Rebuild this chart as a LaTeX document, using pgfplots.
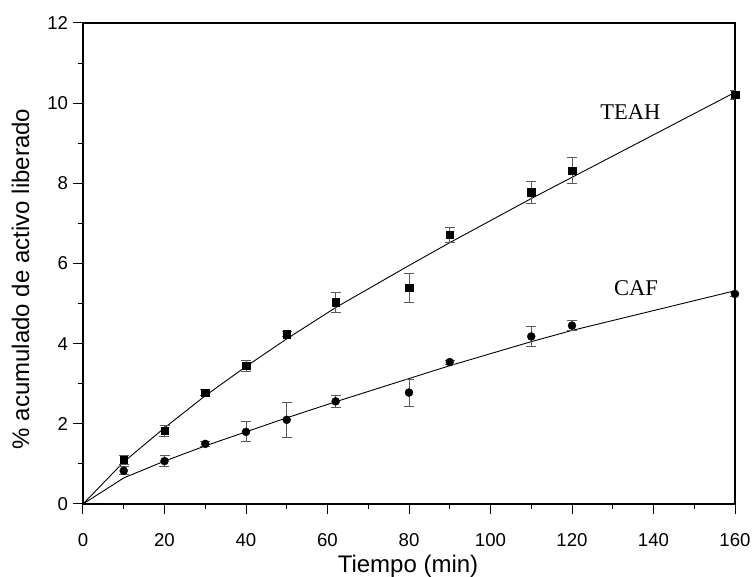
\documentclass[border=0pt]{standalone}
\usepackage{pgfplots}
\pgfplotsset{compat=1.18}
\usepackage{fontspec}
\setmainfont{Liberation Sans}
\newfontfamily\seriffont{Liberation Serif}
\newcommand\tickfont{\fontsize{18.6}{20}\selectfont}
\begin{document}
\begin{tikzpicture}
\begin{axis}[
  scale only axis, width=652pt, height=481pt,
  xmin=0, xmax=160, ymin=0, ymax=12,
  xtick={0,20,...,160}, ytick={0,2,...,12},
  minor x tick num=1, minor y tick num=1,
  tick align=outside, xtick pos=bottom, ytick pos=left,
  major tick length=10pt, minor tick length=5.5pt,
  every tick/.style={black, line width=1pt},
  axis line style={line width=1.6pt},
  /pgf/number format/assume math mode=true,
  every tick label/.append style={font=\tickfont},
  xticklabel style={anchor=base, yshift=-33pt},
  yticklabel style={anchor=east, xshift=-1.5pt},
  xlabel={Tiempo (min)}, ylabel={\% acumulado de activo liberado},
  label style={font=\fontsize{24}{26}\selectfont},
  xlabel style={at={(axis description cs:0.4985,-0.143)}, anchor=base},
  ylabel style={at={(axis description cs:-0.0828,0.4678)}, anchor=base},
  error bars/error bar style={gray!70!black, line width=0.8pt},
  error bars/error mark options={gray!70!black, line width=0.8pt, mark size=5pt, rotate=90},
]
\coordinate (SW) at (rel axis cs:0,0);
% fitted curves
\addplot[black, line width=0.9pt, mark=none] coordinates {
(0,0) (10,1.05) (20,1.90) (30,2.70) (40,3.43) (50,4.12) (62,4.90) (80,5.95) (90,6.52) (110,7.62) (120,8.15) (160,10.27)};
\addplot[black, line width=0.9pt, mark=none] coordinates {
(0,0) (10,0.65) (20,1.07) (30,1.45) (40,1.80) (50,2.15) (62,2.55) (80,3.13) (90,3.45) (110,4.05) (120,4.33) (160,5.32)};
% TEAH data
\addplot[only marks, mark=square*, mark size=3.75pt, black,
  error bars/.cd, y dir=both, y explicit] coordinates {
(10,1.10) +- (0,0.12)
(20,1.83) +- (0,0.14)
(30,2.78) +- (0,0.07)
(40,3.45) +- (0,0.14)
(50,4.24) +- (0,0.07)
(62,5.04) +- (0,0.25)
(80,5.39) +- (0,0.36)
(90,6.72) +- (0,0.19)
(110,7.78) +- (0,0.27)
(120,8.32) +- (0,0.33)
(160,10.21) +- (0,0.12)};
% CAF data
\addplot[only marks, mark=*, mark size=4pt, black,
  error bars/.cd, y dir=both, y explicit] coordinates {
(10,0.83) +- (0,0.10)
(20,1.07) +- (0,0.13)
(30,1.50) +- (0,0.06)
(40,1.80) +- (0,0.25)
(50,2.10) +- (0,0.43)
(62,2.56) +- (0,0.14)
(80,2.78) +- (0,0.34)
(90,3.54) +- (0,0.05)
(110,4.18) +- (0,0.26)
(120,4.45) +- (0,0.12)
(160,5.24) +- (0,0.05)};
\node[anchor=base, font=\seriffont\fontsize{22.5}{24}\selectfont] at (axis cs:134.3,9.59) {TEAH};
\node[anchor=base, font=\seriffont\fontsize{22.5}{24}\selectfont] at (axis cs:135.7,5.20) {CAF};
\end{axis}
\pgfresetboundingbox
\path (SW) ++(-83pt,-73pt) rectangle ++(752pt,577pt);
\end{tikzpicture}
\end{document}
